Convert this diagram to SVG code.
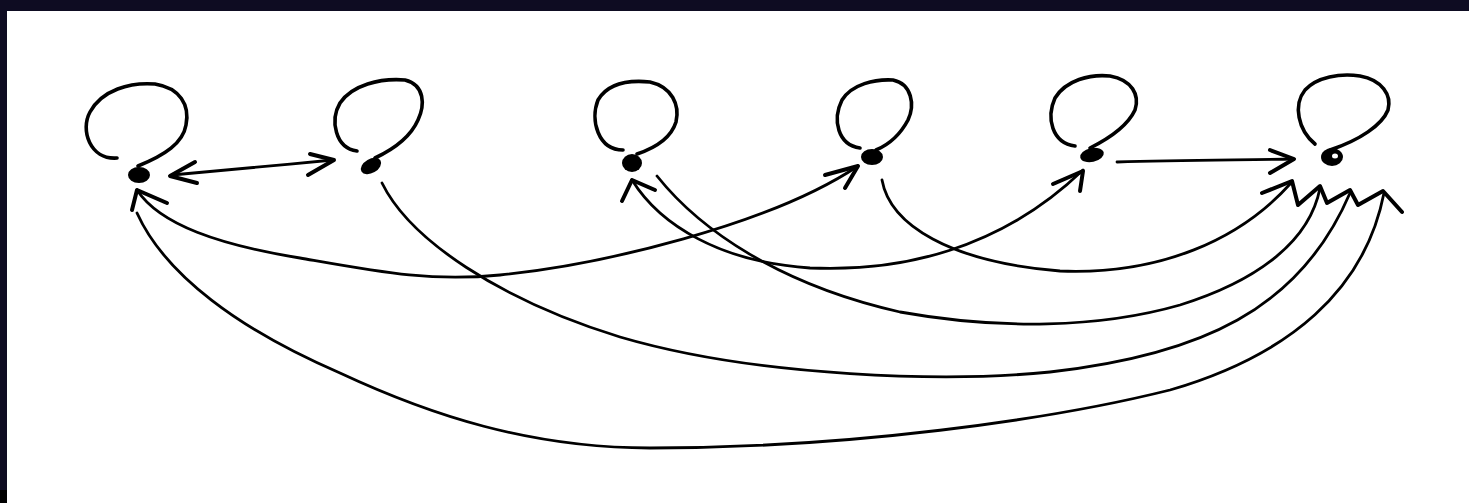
<svg xmlns="http://www.w3.org/2000/svg" width="1469" height="503" viewBox="0 0 1469 503">
<style>
.bg{fill:#ffffff}
.frame{fill:#0e0c22}
.loop{fill:none;stroke:#000;stroke-width:3.6;stroke-linecap:round;stroke-linejoin:round}
.dot{fill:#000}
.edge{fill:none;stroke:#000;stroke-width:2.8;stroke-linecap:round;stroke-linejoin:round}
.head{fill:none;stroke:#000;stroke-width:4;stroke-linecap:round;stroke-linejoin:round}
</style>
<rect class="bg" x="0" y="0" width="1469" height="503"/>
<rect class="frame" x="0" y="0" width="1469" height="11"/>
<rect class="frame" x="0" y="0" width="7" height="503"/>
<rect x="0" y="490" width="7" height="13" fill="#000"/>

<g id="n1">
<path class="loop" d="M117,158 C90,160 80,130 90,112 C102,90 130,82 155,84 C180,88 190,105 186,125 C183,143 165,155 138,166"/>
<ellipse class="dot" cx="139" cy="175" rx="11" ry="8"/>
</g>
<g id="n2">
<path class="loop" d="M357,151 C335,148 330,120 340,103 C352,85 380,78 405,80 C425,85 425,105 418,120 C410,138 392,150 375,158"/>
<ellipse class="dot" cx="371" cy="166" rx="11" ry="7" transform="rotate(-30 371 166)"/>
</g>
<g id="n3">
<path class="loop" d="M623,150 C598,150 590,120 598,100 C608,83 630,80 650,82 C672,87 680,105 676,122 C671,138 655,148 637,154"/>
<ellipse class="dot" cx="632" cy="163" rx="10" ry="9"/>
</g>
<g id="n4">
<path class="loop" d="M860,148 C838,145 832,120 842,100 C852,84 875,79 893,80 C912,84 915,105 908,120 C900,135 888,145 876,150"/>
<ellipse class="dot" cx="872" cy="157" rx="11" ry="8"/>
</g>
<g id="n5">
<path class="loop" d="M1075,146 C1052,143 1046,118 1055,98 C1066,80 1090,74 1110,76 C1132,80 1140,95 1135,110 C1128,125 1110,138 1090,148"/>
<ellipse class="dot" cx="1092" cy="155" rx="12" ry="7" transform="rotate(-12 1092 155)"/>
</g>
<g id="n6">
<path class="loop" d="M1315,144 C1298,130 1293,105 1305,90 C1317,77 1340,73 1360,76 C1382,80 1392,95 1388,110 C1382,125 1360,140 1330,150"/>
<ellipse class="dot" cx="1332" cy="157" rx="11" ry="9"/>
<ellipse cx="1335" cy="156" rx="3" ry="2.5" fill="#fff"/>
</g>

<g id="connectors">
<!-- n1 <-> n2 -->
<path class="edge" d="M172,175 C230,170 280,165 333,160"/>
<polyline class="head" points="195,162 170,176 197,183"/>
<polyline class="head" points="310,154 334,160 308,175"/>
<!-- n5 -> n6 -->
<path class="edge" d="M1117,162 C1180,160 1240,160 1293,159"/>
<polyline class="head" points="1270,150 1294,159 1270,173"/>
<!-- n1 -> n4 -->
<path class="edge" d="M137,190 C160,225 220,245 300,258 C380,272 430,282 500,275 C600,265 770,225 858,166"/>
<polyline class="head" points="825,175 858,166 845,188"/>
<polyline class="head" points="132,210 137,190 167,203"/>
<!-- n3 <-> n5 -->
<path class="edge" d="M632,180 C660,225 720,262 810,268 C900,272 1000,250 1083,170"/>
<polyline class="head" points="622,201 632,180 655,190"/>
<polyline class="head" points="1053,184 1083,171 1080,191"/>
<!-- n3 -> n6 -->
<path class="edge" d="M657,176 C700,230 780,285 900,312 C1000,330 1100,328 1180,305 C1260,280 1310,240 1320,188"/>
<!-- n4 -> n6 -->
<path class="edge" d="M882,180 C890,225 950,262 1060,271 C1160,275 1240,240 1291,183"/>
<!-- n2 -> n6 -->
<path class="edge" d="M382,183 C410,240 500,300 620,337 C760,378 950,382 1050,372 C1200,355 1300,310 1350,193"/>
<!-- n1 - n6 -->
<path class="edge" d="M137,213 C165,275 240,330 340,373 C430,415 530,448 650,448 C850,448 1050,420 1170,390 C1290,355 1365,290 1384,193"/>
<!-- arrowheads at n6 -->
<polyline class="head" points="1262,193 1292,181 1298,205 1320,186 1327,203 1350,190 1358,205 1383,191 1402,212"/>
</g>
</svg>
